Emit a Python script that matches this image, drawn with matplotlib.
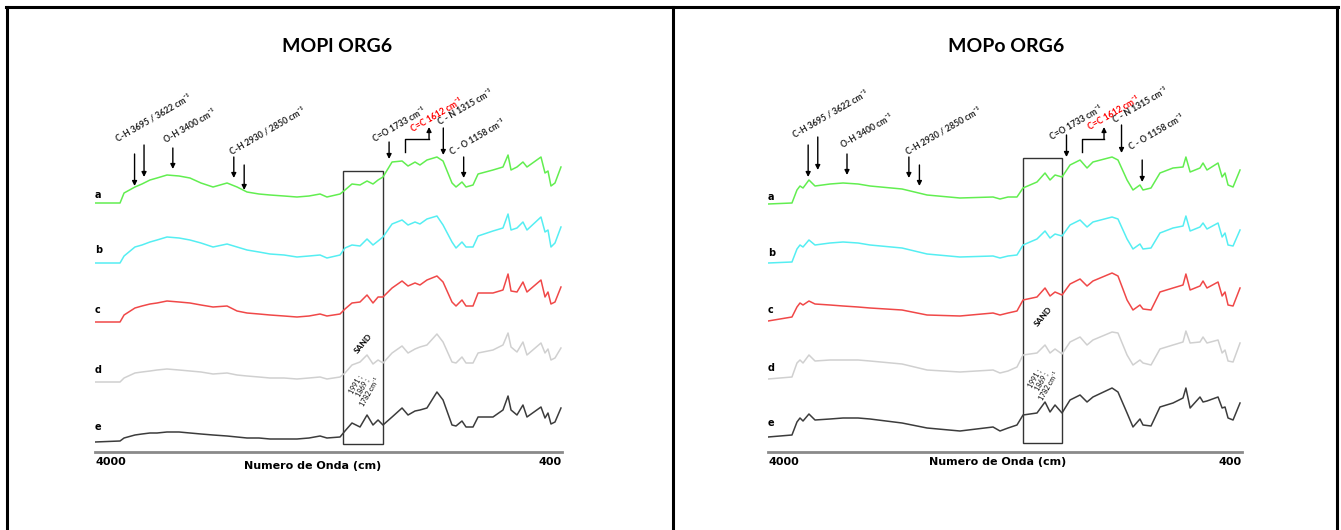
import numpy as np
import matplotlib
matplotlib.use("Agg")
import matplotlib.pyplot as plt
from matplotlib.lines import Line2D
from matplotlib.patches import Rectangle

plt.rcParams['font.family'] = ['Lato', 'DejaVu Sans']

# ---- spectra, MOPl ORG6 (wavenumber grid, relative absorbance per sample)
wn_pl = [4000, 3807, 3776, 3692, 3638, 3576, 3522, 3445, 3352, 3268,
         3183, 3090, 2982, 2905, 2828, 2736, 2651, 2543, 2443, 2350,
         2265, 2212, 2111, 2073, 2019, 1957, 1903, 1857, 1818, 1780,
         1710, 1633, 1587, 1533, 1495, 1441, 1364, 1317, 1248, 1217,
         1171, 1140, 1086, 1047, 932, 855, 816, 793, 747, 701,
         670, 562, 531, 508, 485, 454, 408]
pl_a = [0, 0, 10, 16, 19, 23, 25, 28, 27, 25,
        20, 16, 20, 16, 11, 9, 8, 7, 6, 7,
        9, 6, 9, 13, 19, 18, 22, 19, 23, 26,
        41, 42, 37, 41, 38, 43, 46, 42, 20, 16,
        21, 16, 18, 29, 33, 36, 48, 33, 36, 41,
        36, 46, 30, 32, 17, 20, 36]
pl_b = [0, 0, 7, 16, 18, 21, 23, 26, 25, 23,
        20, 16, 19, 16, 13, 11, 9, 8, 6, 7,
        8, 5, 8, 15, 18, 17, 24, 18, 22, 26,
        39, 43, 38, 41, 39, 44, 47, 38, 21, 15,
        21, 16, 16, 27, 32, 35, 49, 33, 35, 41,
        33, 46, 31, 33, 16, 20, 36]
pl_c = [0, 0, 7, 14, 16, 18, 19, 21, 20, 19,
        17, 15, 16, 11, 9, 8, 7, 6, 5, 6,
        8, 6, 8, 13, 19, 20, 27, 19, 25, 25,
        34, 41, 36, 39, 37, 42, 46, 40, 20, 16,
        22, 16, 16, 29, 29, 32, 48, 31, 30, 40,
        30, 42, 25, 30, 18, 20, 35]
pl_d = [0, 0, 4, 9, 10, 11, 12, 13, 12, 11,
        10, 8, 9, 7, 6, 5, 4, 4, 3, 4,
        5, 3, 5, 9, 17, 20, 27, 18, 22, 19,
        29, 36, 29, 33, 35, 37, 48, 40, 20, 19,
        25, 19, 19, 29, 32, 37, 49, 35, 30, 40,
        27, 39, 29, 33, 22, 24, 34]
pl_e = [0, 1, 4, 7, 8, 9, 9, 10, 10, 9,
        8, 7, 6, 5, 4, 4, 3, 3, 3, 4,
        6, 4, 5, 11, 19, 15, 27, 17, 22, 17,
        25, 34, 27, 31, 32, 34, 50, 42, 17, 16,
        21, 15, 15, 25, 25, 32, 46, 32, 27, 37,
        25, 35, 24, 29, 18, 20, 34]

# ---- spectra, MOPo ORG6
wn_po = [4000, 3818, 3780, 3757, 3734, 3689, 3643, 3529, 3430, 3316,
         3225, 2982, 2792, 2542, 2291, 2238, 2177, 2109, 2063, 1957,
         1896, 1858, 1820, 1767, 1706, 1630, 1577, 1532, 1387, 1342,
         1273, 1228, 1175, 1152, 1091, 1023, 924, 848, 826, 794,
         719, 696, 666, 582, 551, 529, 506, 468, 415]
po_a = [0, 1, 14, 18, 16, 24, 18, 20, 21, 20,
        18, 15, 9, 6, 7, 5, 7, 7, 16, 22,
        31, 24, 29, 27, 39, 44, 36, 42, 47, 44,
        24, 14, 19, 14, 16, 31, 36, 37, 47, 32,
        36, 41, 34, 41, 27, 31, 19, 17, 34]
po_b = [0, 1, 14, 18, 16, 23, 18, 20, 21, 20,
        18, 15, 9, 6, 7, 5, 7, 8, 18, 24,
        32, 25, 29, 27, 38, 43, 36, 41, 46, 44,
        24, 14, 19, 14, 15, 30, 35, 37, 47, 32,
        36, 40, 34, 40, 26, 30, 18, 17, 33]
po_c = [0, 4, 14, 18, 16, 20, 17, 16, 15, 14,
        13, 11, 6, 5, 8, 6, 8, 10, 21, 24,
        33, 25, 29, 26, 37, 42, 35, 40, 48, 45,
        21, 11, 16, 12, 11, 29, 33, 36, 47, 31,
        35, 40, 33, 39, 25, 29, 16, 15, 33]
po_d = [0, 2, 16, 19, 16, 24, 18, 19, 19, 19,
        18, 15, 9, 7, 9, 6, 8, 12, 24, 26,
        34, 26, 30, 25, 37, 42, 34, 39, 47, 46,
        24, 14, 19, 16, 14, 30, 34, 37, 48, 36,
        37, 42, 36, 39, 26, 29, 18, 17, 36]
po_e = [0, 2, 15, 19, 16, 23, 17, 18, 19, 19,
        18, 14, 9, 6, 10, 6, 9, 12, 22, 24,
        35, 25, 32, 24, 37, 42, 35, 40, 49, 45,
        24, 10, 18, 12, 11, 30, 34, 39, 49, 29,
        40, 35, 36, 40, 29, 30, 19, 17, 34]

samples = ['a', 'b', 'c', 'd', 'e']
colors = ['#62ee50', '#55eef2', '#f04848', '#d0d0d0', '#3c3c3c']

# band assignments: (text, arrow wavenumbers)
bands = [
    ("C-H 3695 / 3622 cm⁻¹", [3695, 3622]),
    ("O-H 3400 cm⁻¹", [3400]),
    ("C-H 2930 / 2850 cm⁻¹", [2930, 2850]),
    ("C=O 1733 cm⁻¹", [1733]),
    ("C=C 1612 cm⁻¹", [1612]),
    ("C - N 1315 cm⁻¹", [1315]),
    ("C - O 1158 cm⁻¹", [1158]),
]
sand_bands = "1991 ;\n1869 ;\n1782 cm⁻¹"

W, H = 1341, 530
fig = plt.figure(figsize=(W / 100, H / 100), dpi=100)


def px_axes(x0, x1, y_top, y_bot):
    return fig.add_axes([x0 / W, (H - y_bot) / H, (x1 - x0) / W, (y_bot - y_top) / H])


def draw_panel(ax, title, wn, traces, offsets, layout):
    ax.set_xlim(4000, 400)
    ax.set_ylim(0, 422)
    for s in ['top', 'right', 'left']:
        ax.spines[s].set_visible(False)
    ax.spines['bottom'].set_color('#8a8a8a')
    ax.spines['bottom'].set_linewidth(2)
    ax.set_xticks([])
    ax.set_yticks([])

    for lab, tr, off, col, ly in zip(samples, traces, offsets, colors, layout['lab_y']):
        ax.plot(wn, np.array(tr) + off, color=col, lw=1.1)
        ax.text(4000, ly, lab, fontsize=7, fontweight='bold', family='DejaVu Sans',
                ha='left', va='center')

    ax.text(layout['title_x'], 406, title, fontsize=14, fontweight='bold',
            ha='center', va='center')
    ax.text(4000, -10, '4000', fontsize=8, fontweight='bold', family='DejaVu Sans',
            ha='left', va='center', clip_on=False)
    ax.text(400, -10, '400', fontsize=8, fontweight='bold', family='DejaVu Sans',
            ha='right', va='center', clip_on=False)
    ax.text(layout['xlabel_x'], layout['xlabel_y'], 'Numero de Onda (cm)', fontsize=8,
            fontweight='bold', family='DejaVu Sans', ha='center', va='center', clip_on=False)

    # band labels and arrows
    for (txt, pos), tpos, arr in zip(bands, layout['text'], layout['arrows']):
        red = txt.startswith('C=C')
        ax.text(tpos[0], tpos[1], txt, fontsize=6.2, fontweight='bold', rotation=30,
                rotation_mode='anchor', ha='left', va='baseline',
                color='red' if red else '#222222')
        if red:
            top, h_end, x_end = arr
            ax.plot([pos[0], pos[0], x_end], [top, h_end, h_end], color='black', lw=1)
            ax.annotate('', xy=(x_end, h_end + 12), xytext=(x_end, h_end),
                        arrowprops=dict(arrowstyle='-|>', color='black', lw=1,
                                        mutation_scale=7, shrinkA=0, shrinkB=0))
            continue
        for p, (top, tip) in zip(pos, arr):
            ax.annotate('', xy=(p, tip), xytext=(p, top),
                        arrowprops=dict(arrowstyle='-|>', color='black', lw=1,
                                        mutation_scale=7, shrinkA=0, shrinkB=0))

    # sand region
    x0, x1, yb, yt = layout['sand']
    ax.add_patch(Rectangle((x0, yb), x1 - x0, yt - yb, fill=False, ec='#333333', lw=1))
    ax.text(layout['sand_txt'][0], layout['sand_txt'][1], 'SAND', fontsize=6,
            fontweight='bold', rotation=50, ha='center', va='center')
    ax.text(layout['sand_bands'][0], layout['sand_bands'][1], sand_bands, fontsize=5,
            rotation=60, ha='center', va='center', multialignment='center',
            linespacing=1.1)


ax1 = px_axes(95, 562, 30, 452)
draw_panel(ax1, 'MOPl ORG6', wn_pl, [pl_a, pl_b, pl_c, pl_d, pl_e],
           [249, 189, 130, 70, 10],
           dict(lab_y=[257, 202, 142, 82, 25], title_x=2134,
                xlabel_x=2319, xlabel_y=-14,
                text=[(3823, 310), (3453, 309), (2944, 297), (1842, 310),
                      (1549, 320), (1340, 327), (1248, 297)],
                arrows=[[(298, 266), (307, 275)], [(304, 283)],
                        [(295, 274), (287, 262)], [(310, 293)],
                        (300, 313, 1425), [(324, 297)], [(295, 274)]],
                sand=(2088, 1780, 8, 281), sand_txt=(1934, 109),
                sand_bands=(1934, 64)))

ax2 = px_axes(768, 1242, 30, 452)
draw_panel(ax2, 'MOPo ORG6', wn_po, [po_a, po_b, po_c, po_d, po_e],
           [248, 189, 131, 73, 15],
           dict(lab_y=[255, 199, 142, 84, 29], title_x=2192,
                xlabel_x=2253, xlabel_y=-10,
                text=[(3795, 314), (3430, 304), (2937, 297), (1843, 312),
                      (1554, 322), (1365, 329), (1243, 302)],
                arrows=[[(307, 275), (315, 282)], [(298, 277)],
                        [(295, 274), (287, 266)], [(317, 295)],
                        (300, 313, 1448), [(327, 299)], [(292, 270)]],
                sand=(2063, 1767, 9, 294), sand_txt=(1911, 136),
                sand_bands=(1919, 70)))

# table frame around the two panels
lw_frame = 2.2
for x in [7, 673, 1337]:
    fig.add_artist(Line2D([x / W, x / W], [0, 1 - 7 / H], color='black', lw=lw_frame,
                          transform=fig.transFigure))
fig.add_artist(Line2D([6 / W, 1338 / W], [1 - 7 / H, 1 - 7 / H], color='black',
                      lw=lw_frame, transform=fig.transFigure))

fig.savefig('out.png', dpi=100)
